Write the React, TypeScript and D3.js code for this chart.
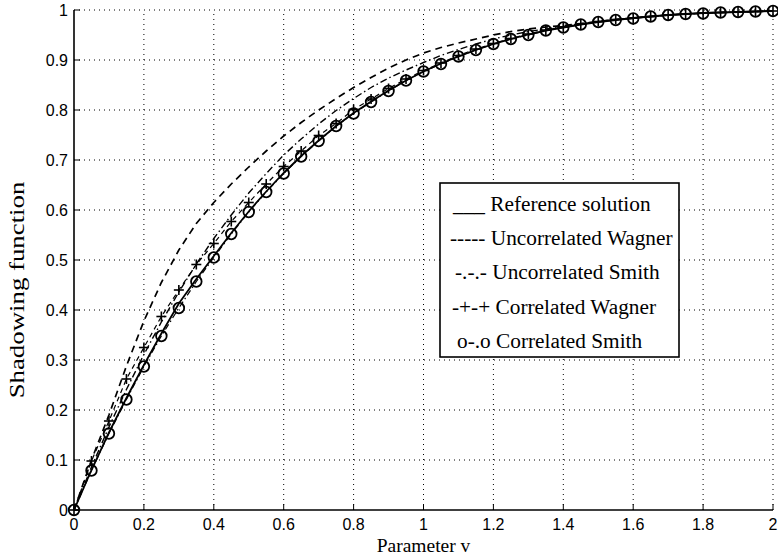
import React, {useEffect, useRef} from 'react';
import * as d3 from 'd3';

// sample positions of the parameter v
const vValues = [0, 0.05, 0.1, 0.15, 0.2, 0.25, 0.3, 0.35, 0.4, 0.45, 0.5, 0.55, 0.6, 0.65, 0.7, 0.75, 0.8, 0.85, 0.9, 0.95,
    1, 1.05, 1.1, 1.15, 1.2, 1.25, 1.3, 1.35, 1.4, 1.45, 1.5, 1.55, 1.6, 1.65, 1.7, 1.75, 1.8, 1.85, 1.9, 1.95, 2];

const referenceSolution = [0, 0.080, 0.155, 0.224, 0.290, 0.353, 0.413, 0.462, 0.508, 0.554, 0.597, 0.637, 0.674, 0.708, 0.739, 0.768,
    0.794, 0.817, 0.839, 0.859, 0.877, 0.893, 0.907, 0.920, 0.932, 0.942, 0.951, 0.959, 0.965, 0.971, 0.976, 0.980, 0.984, 0.987,
    0.990, 0.992, 0.994, 0.995, 0.996, 0.997, 0.998];
const uncorrelatedWagner = [0, 0.100, 0.190, 0.288, 0.378, 0.455, 0.520, 0.573, 0.615, 0.652, 0.686, 0.718, 0.748, 0.775, 0.800, 0.823,
    0.845, 0.865, 0.884, 0.900, 0.914, 0.925, 0.934, 0.942, 0.950, 0.957, 0.962, 0.966, 0.969, 0.973, 0.977, 0.981, 0.984, 0.987,
    0.990, 0.992, 0.994, 0.995, 0.996, 0.997, 0.998];
const uncorrelatedSmith = [0, 0.086, 0.166, 0.241, 0.311, 0.376, 0.436, 0.492, 0.543, 0.590, 0.634, 0.673, 0.710, 0.742, 0.772, 0.799,
    0.823, 0.845, 0.864, 0.880, 0.895, 0.909, 0.921, 0.932, 0.942, 0.950, 0.957, 0.962, 0.967, 0.972, 0.977, 0.981, 0.984, 0.987,
    0.990, 0.992, 0.994, 0.995, 0.996, 0.997, 0.998];
const correlatedWagner = [0, 0.098, 0.178, 0.262, 0.325, 0.387, 0.440, 0.491, 0.533, 0.577, 0.615, 0.652, 0.687, 0.718, 0.749, 0.773,
    0.801, 0.822, 0.843, 0.862, 0.879, 0.894, 0.909, 0.922, 0.933, 0.943, 0.952, 0.960, 0.966, 0.972, 0.977, 0.981, 0.984, 0.987,
    0.990, 0.992, 0.994, 0.995, 0.996, 0.997, 0.998];
const correlatedSmith = [0, 0.079, 0.153, 0.221, 0.287, 0.348, 0.404, 0.457, 0.505, 0.552, 0.596, 0.636, 0.673, 0.707, 0.738, 0.768,
    0.793, 0.816, 0.838, 0.859, 0.877, 0.892, 0.907, 0.920, 0.932, 0.942, 0.950, 0.959, 0.965, 0.971, 0.976, 0.980, 0.983, 0.987,
    0.990, 0.992, 0.993, 0.995, 0.996, 0.997, 0.998];

const xTicks = [0, 0.2, 0.4, 0.6, 0.8, 1, 1.2, 1.4, 1.6, 1.8, 2];
const yTicks = [0, 0.1, 0.2, 0.3, 0.4, 0.5, 0.6, 0.7, 0.8, 0.9, 1];
const xTickLabels = ['0', '0.2', '0.4', '0.6', '0.8', '1', '1.2', '1.4', '1.6', '1.8', '2'];
const yTickLabels = ['0', '0.1', '0.2', '0.3', '0.4', '0.5', '0.6', '0.7', '0.8', '0.9', '1'];
const legendLabels = ['___ Reference solution', '----- Uncorrelated Wagner', '-.-.- Uncorrelated Smith',
    '-+-+ Correlated Wagner', 'o-.o Correlated Smith'];

const serif = '"Liberation Serif", "Times New Roman", serif';
const sans = '"Liberation Sans", Arial, sans-serif';

function App() {
    const svgRef = useRef<SVGSVGElement>(null);

    useEffect(() => {
        const svg = d3.select(svgRef.current);
        svg.selectAll('*').remove();
        const x = d3.scaleLinear().domain([0, 2]).range([74, 773]);
        const y = d3.scaleLinear().domain([0, 1]).range([510, 10]);

        // dotted grid
        const grid = svg.append('g').attr('stroke', '#000').attr('stroke-width', 1).attr('stroke-dasharray', '1,4');
        grid.selectAll('.vgrid').data(xTicks.slice(1)).enter().append('line')
            .attr('x1', d => x(d)).attr('x2', d => x(d)).attr('y1', y(0)).attr('y2', y(1));
        grid.selectAll('.hgrid').data(yTicks.slice(1)).enter().append('line')
            .attr('x1', x(0)).attr('x2', x(2)).attr('y1', d => y(d)).attr('y2', d => y(d));

        const line = d3.line<number>().x((d, i) => x(vValues[i])).y(d => y(d));
        const curves = [
            {data: uncorrelatedWagner, dash: '7,5', width: 1.7},
            {data: uncorrelatedSmith, dash: '7,3,1.5,3', width: 1.4},
            {data: correlatedWagner, dash: '5,4', width: 1.2},
            {data: correlatedSmith, dash: '6,3,1.5,3', width: 1.2},
            {data: referenceSolution, dash: null, width: 1.8}
        ];
        curves.forEach(c => {
            svg.append('path')
                .attr('d', line(c.data))
                .attr('fill', 'none')
                .attr('stroke', '#000')
                .attr('stroke-width', c.width)
                .attr('stroke-dasharray', c.dash);
        });

        // + markers (correlated Wagner)
        const plus = svg.append('g').attr('stroke', '#000').attr('stroke-width', 1.6);
        correlatedWagner.forEach((d, i) => {
            const cx = x(vValues[i]);
            const cy = y(d);
            plus.append('line').attr('x1', cx - 5).attr('x2', cx + 5).attr('y1', cy).attr('y2', cy);
            plus.append('line').attr('x1', cx).attr('x2', cx).attr('y1', cy - 5).attr('y2', cy + 5);
        });
        // o markers (correlated Smith)
        svg.append('g').selectAll('circle').data(correlatedSmith).enter().append('circle')
            .attr('cx', (d, i) => x(vValues[i]))
            .attr('cy', d => y(d))
            .attr('r', 5.3)
            .attr('fill', 'none')
            .attr('stroke', '#000')
            .attr('stroke-width', 1.8);

        // axes
        const axes = svg.append('g').attr('stroke', '#000').attr('stroke-width', 1.6);
        axes.append('line').attr('x1', x(0)).attr('x2', x(0)).attr('y1', y(0)).attr('y2', y(1));
        axes.append('line').attr('x1', x(0)).attr('x2', x(2)).attr('y1', y(0)).attr('y2', y(0));
        axes.selectAll('.xt').data(xTicks).enter().append('line')
            .attr('x1', d => x(d)).attr('x2', d => x(d)).attr('y1', y(0)).attr('y2', y(0) - 6).attr('stroke-width', 1);
        axes.selectAll('.yt').data(yTicks).enter().append('line')
            .attr('x1', x(0)).attr('x2', x(0) + 6).attr('y1', d => y(d)).attr('y2', d => y(d)).attr('stroke-width', 1);

        svg.append('g').selectAll('text').data(xTicks).enter().append('text')
            .attr('x', d => x(d)).attr('y', y(0) + 20)
            .attr('text-anchor', 'middle')
            .style('font-family', sans).style('font-size', '16px')
            .text((d, i) => xTickLabels[i]);
        svg.append('g').selectAll('text').data(yTicks).enter().append('text')
            .attr('x', x(0) - 6).attr('y', d => y(d) + 6)
            .attr('text-anchor', 'end')
            .style('font-family', sans).style('font-size', '16px')
            .text((d, i) => yTickLabels[i]);

        svg.append('text')
            .attr('x', x(1)).attr('y', 552)
            .attr('text-anchor', 'middle')
            .style('font-family', serif).style('font-size', '19.5px')
            .text('Parameter v');
        svg.append('text')
            .attr('transform', 'translate(24,290) rotate(-90) scale(1.22,1)')
            .attr('text-anchor', 'middle')
            .style('font-family', serif).style('font-size', '22px')
            .text('Shadowing function');

        // legend
        const legend = svg.append('g');
        legend.append('rect')
            .attr('x', 440).attr('y', 183).attr('width', 239).attr('height', 174)
            .attr('fill', '#fff').attr('stroke', '#000').attr('stroke-width', 1.6);
        const legendX = [453, 450, 455, 452, 457];
        legend.selectAll('text').data(legendLabels).enter().append('text')
            .attr('x', (d, i) => legendX[i])
            .attr('y', (d, i) => 211 + i * 34.2)
            .style('font-family', serif).style('font-size', '21.3px')
            .text(d => d);
    }, []);

    return (
        <svg ref={svgRef} width={778} height={557}
             style={{position: 'absolute', left: 0, top: 0, background: '#fff'}}/>
    );
}

export default App;
